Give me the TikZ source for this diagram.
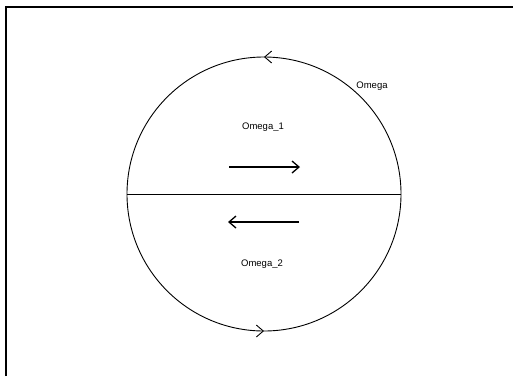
\documentclass[tikz,border=0pt]{standalone}
\usepackage{fontspec}
\setmainfont{Liberation Sans}
\usetikzlibrary{arrows.meta,decorations.markings}
\begin{document}
\begin{tikzpicture}[x=1pt, y=-1pt, font=\fontsize{9.5}{11}\selectfont,
    >={Straight Barb[length=7pt,width=12pt]}]
    \useasboundingbox (0,0) rectangle (513,376);
    \draw[line width=1.6pt] (6,376) -- (6,7) -- (513,7);
    % the domain and its two halves
    \coordinate (w) at (127,194); \coordinate (e) at (401,194);
    \draw[line width=0.9pt, decoration={markings, mark=at position 0.5 with {\arrow{>}}}, postaction={decorate}]
        (e) arc[start angle=0, end angle=-180, radius=137];
    \draw[line width=0.9pt, decoration={markings, mark=at position 0.5 with {\arrow{>}}}, postaction={decorate}]
        (w) arc[start angle=180, end angle=0, radius=137];
    \draw[line width=0.9pt] (w) -- (e);
    \node (om)  at (372,86)  {Omega};
    \node (om1) at (263,127) {Omega\_1};
    \node (om2) at (262,264) {Omega\_2};
    % flow in each half
    \coordinate (a1) at (229,167); \coordinate (b1) at (300,167);
    \coordinate (a2) at (228,222); \coordinate (b2) at (299,222);
    \draw[->, line width=1.3pt] (a1) -- (b1);
    \draw[->, line width=1.3pt] (b2) -- (a2);
\end{tikzpicture}
\end{document}
